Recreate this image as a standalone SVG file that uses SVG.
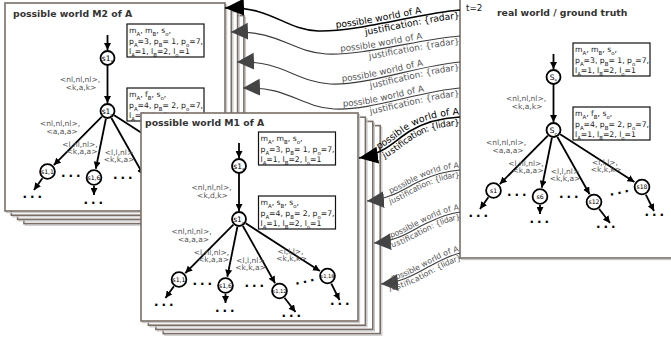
<svg xmlns="http://www.w3.org/2000/svg" width="671" height="343" viewBox="0 0 671 343">
<defs>
<style>
text{font-family:"DejaVu Sans","Liberation Sans",sans-serif}
.fr{fill:#fff;stroke:#7a6e67;stroke-width:1.6}
.sh{fill:none;stroke:#c8c8c8;stroke-width:1.2}
.ttl{font-size:9.3px;font-weight:bold;fill:#333}
.bx{fill:#fff;stroke:#111;stroke-width:1.2}
.bt{font-size:7.7px;fill:#1a1a1a}
.sb{font-size:5.4px;baseline-shift:sub}
.lb{font-size:7.5px;fill:#555;text-anchor:middle}
.nd{fill:#fff;stroke:#000;stroke-width:1.8}
.e{fill:none;stroke:#000;stroke-width:1.8;marker-end:url(#ah)}
.nt{font-size:7.5px;text-anchor:middle;fill:#000}
.ct{font-size:6.2px;text-anchor:middle;fill:#000}
.cs{font-size:5.1px;text-anchor:middle;fill:#000}
.dots{font-size:12px;font-weight:bold;letter-spacing:3px;fill:#000}
.ca{fill:none;stroke:#3c3c3c;stroke-width:1.1;marker-start:url(#gh)}
.cb{fill:none;stroke:#000;stroke-width:1.6;marker-start:url(#bh)}
.ab{fill:#000}
.ag{fill:#555}
</style>
<marker id="ah" markerUnits="userSpaceOnUse" markerWidth="8" markerHeight="7" refX="7" refY="3.5" orient="auto"><path d="M0,0 L7,3.5 L0,7 z" fill="#000"/></marker>
<marker id="gh" markerUnits="userSpaceOnUse" markerWidth="18" markerHeight="18" refX="17" refY="8.5" orient="auto-start-reverse"><path d="M0,0 L17,8.5 L0,17 z" fill="#444"/></marker>
<marker id="bh" markerUnits="userSpaceOnUse" markerWidth="20" markerHeight="18" refX="19" refY="8.5" orient="auto-start-reverse"><path d="M0,0 L19,8.5 L0,17 z" fill="#000"/></marker>
</defs>

<!-- possible world M2 -->
<g id="world-m2">
 <g id="m2-frames">
  <rect class="sh" x="25.5" y="17.2" width="220" height="208"/><rect class="fr" x="23.9" y="15.6" width="220" height="208"/>
  <rect class="sh" x="19.2" y="13" width="220" height="208"/><rect class="fr" x="17.6" y="11.4" width="220" height="208"/>
  <rect class="sh" x="12.9" y="8.8" width="220" height="208"/><rect class="fr" x="11.3" y="7.2" width="220" height="208"/>
  <rect class="sh" x="6.6" y="4.6" width="220" height="208"/><rect class="fr" x="5" y="3" width="220" height="208"/>
 </g>
 <text class="ttl" x="13" y="17">possible world M2 of A</text>
 <g id="m2-connectors">
  <path class="e" d="M107.5,35 V50"/>
  <path class="e" d="M107.5,65 V103"/>
  <path class="e" d="M101.9,116.7 L53.8,165.1"/>
  <path class="e" d="M105.9,118.8 L95.8,168.7"/>
  <path class="e" d="M111.4,118 L143.6,175.2"/>
  <path class="e" d="M114.2,115.3 L188.4,163.1"/>
  <path class="e" d="M42.4,178.3 L34,190"/>
  <path class="e" d="M94,186 V195"/>
 </g>
 <g id="m2-labels">
  <text class="lb"><tspan x="80" y="82">&lt;nl,nl,nl&gt;,</tspan><tspan x="81" y="90">&lt;k,a,k&gt;</tspan></text>
  <text class="lb"><tspan x="60" y="126">&lt;nl,nl,nl&gt;,</tspan><tspan x="62" y="133.5">&lt;a,a,a&gt;</tspan></text>
  <text class="lb"><tspan x="80" y="147">&lt;l,nl,nl&gt;,</tspan><tspan x="82" y="154">&lt;k,a,a&gt;</tspan></text>
  <text class="lb"><tspan x="119" y="154.5">&lt;l,l,nl&gt;</tspan><tspan x="119" y="162">&lt;k,k,a&gt;</tspan></text>
 </g>
 <g id="m2-s1star"><circle class="nd" cx="107.5" cy="58" r="7"/><text class="nt" x="107.5" y="60.6">s1<tspan class="sb">*</tspan></text></g>
 <g id="m2-s1c"><circle class="nd" cx="107.5" cy="111" r="7"/><text class="nt" x="107.5" y="113.6">s1<tspan class="sb">c</tspan></text></g>
 <g id="m2-s1-1"><circle class="nd" cx="47.5" cy="171.5" r="7.4"/><text class="ct" x="47.5" y="173.7">s1,1</text></g>
 <g id="m2-s1-6"><circle class="nd" cx="94" cy="177.5" r="7.4"/><text class="ct" x="94" y="179.7">s1,6</text></g>
 <g id="m2-dots">
  <text class="dots" x="61" y="176.5">...</text>
  <text class="dots" x="22.5" y="197.5">...</text>
  <text class="dots" x="83.5" y="203.5">...</text>
  <text class="dots" x="113" y="179">...</text>
 </g>
 <g id="m2-box1"><rect class="bx" x="127" y="24" width="77" height="33"/>
  <text class="bt" x="129" y="33.2">m<tspan class="sb">A</tspan>, m<tspan class="sb">B</tspan>, s<tspan class="sb">o</tspan>,</text>
  <text class="bt" x="129" y="43.5">p<tspan class="sb">A</tspan>=3, p<tspan class="sb">B</tspan>= 1, p<tspan class="sb">o</tspan>=7,</text>
  <text class="bt" x="129" y="53.8">l<tspan class="sb">A</tspan>=1, l<tspan class="sb">B</tspan>=2, l<tspan class="sb">o</tspan>=1</text>
 </g>
 <g id="m2-box2"><rect class="bx" x="127" y="88" width="77" height="33"/>
  <text class="bt" x="129" y="97.2">m<tspan class="sb">A</tspan>, f<tspan class="sb">B</tspan>, s<tspan class="sb">o</tspan>,</text>
  <text class="bt" x="129" y="107.5">p<tspan class="sb">A</tspan>=4, p<tspan class="sb">B</tspan>= 2, p<tspan class="sb">o</tspan>=7,</text>
  <text class="bt" x="129" y="117.8">l<tspan class="sb">A</tspan>=1, l<tspan class="sb">B</tspan>=2, l<tspan class="sb">o</tspan>=1</text>
 </g>
</g>

<!-- possible world M1 -->
<g id="world-m1">
 <g id="m1-frames">
  <rect class="sh" x="164.8" y="127.2" width="217" height="208"/><rect class="fr" x="163.2" y="125.6" width="217" height="208"/>
  <rect class="sh" x="157.4" y="123" width="217" height="208"/><rect class="fr" x="155.8" y="121.4" width="217" height="208"/>
  <rect class="sh" x="150" y="118.8" width="217" height="208"/><rect class="fr" x="148.4" y="117.2" width="217" height="208"/>
  <rect class="sh" x="142.6" y="114.6" width="217" height="208"/><rect class="fr" x="141" y="113" width="217" height="208"/>
 </g>
 <text class="ttl" x="145" y="125.5">possible world M1 of A</text>
 <g transform="translate(131.5,108)">
  <g id="m1-connectors">
   <path class="e" d="M107.5,35 V50"/>
   <path class="e" d="M107.5,65 V103"/>
   <path class="e" d="M101.9,116.7 L53.8,165.1"/>
   <path class="e" d="M105.9,118.8 L95.8,168.7"/>
   <path class="e" d="M111.4,118 L143.6,175.2"/>
   <path class="e" d="M114.2,115.3 L188.4,163.1"/>
   <path class="e" d="M42.4,178.3 L34,190"/>
   <path class="e" d="M94,186 V195"/>
   <path class="e" d="M153,189.8 L164,204"/>
   <path class="e" d="M199.8,175.6 L208,192"/>
  </g>
  <g id="m1-labels">
   <text class="lb"><tspan x="80" y="82">&lt;nl,nl,nl&gt;,</tspan><tspan x="81" y="90">&lt;k,d,k&gt;</tspan></text>
   <text class="lb"><tspan x="60" y="126">&lt;nl,nl,nl&gt;,</tspan><tspan x="62" y="133.5">&lt;a,a,a&gt;</tspan></text>
   <text class="lb"><tspan x="80" y="147">&lt;l,nl,nl&gt;,</tspan><tspan x="82" y="154">&lt;k,a,a&gt;</tspan></text>
   <text class="lb"><tspan x="119" y="154.5">&lt;l,l,nl&gt;</tspan><tspan x="119" y="162">&lt;k,k,a&gt;</tspan></text>
   <text class="lb"><tspan x="159" y="146">&lt;l,l,l&gt;,</tspan><tspan x="160" y="153">&lt;k,k,k&gt;</tspan></text>
  </g>
  <g id="m1-s1star"><circle class="nd" cx="107.5" cy="58" r="7"/><text class="nt" x="107.5" y="60.6">s1<tspan class="sb">*</tspan></text></g>
  <g id="m1-s1c"><circle class="nd" cx="107.5" cy="111" r="7"/><text class="nt" x="107.5" y="113.6">s1<tspan class="sb">c</tspan></text></g>
  <g id="m1-s1-1"><circle class="nd" cx="47.5" cy="171.5" r="7.4"/><text class="ct" x="47.5" y="173.7">s1,1</text></g>
  <g id="m1-s1-6"><circle class="nd" cx="94" cy="177.5" r="7.4"/><text class="ct" x="94" y="179.7">s1,6</text></g>
  <g id="m1-s1-12"><circle class="nd" cx="148" cy="183" r="7.4"/><text class="cs" x="148" y="184.8">s1,12</text></g>
  <g id="m1-s1-18"><circle class="nd" cx="196" cy="168" r="7.4"/><text class="cs" x="196" y="169.8">s1,18</text></g>
  <g id="m1-dots">
   <text class="dots" x="61" y="176.5">...</text>
   <text class="dots" x="22.5" y="197.5">...</text>
   <text class="dots" x="83.5" y="203.5">...</text>
   <text class="dots" x="113" y="179">...</text>
   <text class="dots" x="150" y="209">...</text>
   <text class="dots" x="164" y="177" transform="rotate(-12 164 177)">...</text>
   <text class="dots" x="198.5" y="196.5">...</text>
  </g>
  <g id="m1-box1"><rect class="bx" x="127" y="24" width="77" height="33"/>
   <text class="bt" x="129" y="33.2">m<tspan class="sb">A</tspan>, m<tspan class="sb">B</tspan>, s<tspan class="sb">o</tspan>,</text>
   <text class="bt" x="129" y="43.5">p<tspan class="sb">A</tspan>=3, p<tspan class="sb">B</tspan>= 1, p<tspan class="sb">o</tspan>=7,</text>
   <text class="bt" x="129" y="53.8">l<tspan class="sb">A</tspan>=1, l<tspan class="sb">B</tspan>=2, l<tspan class="sb">o</tspan>=1</text>
  </g>
  <g id="m1-box2"><rect class="bx" x="127" y="88" width="77" height="33"/>
   <text class="bt" x="129" y="97.2">m<tspan class="sb">A</tspan>, s<tspan class="sb">B</tspan>, s<tspan class="sb">o</tspan>,</text>
   <text class="bt" x="129" y="107.5">p<tspan class="sb">A</tspan>=4, p<tspan class="sb">B</tspan>= 2, p<tspan class="sb">o</tspan>=7,</text>
   <text class="bt" x="129" y="117.8">l<tspan class="sb">A</tspan>=1, l<tspan class="sb">B</tspan>=2, l<tspan class="sb">o</tspan>=1</text>
  </g>
 </g>
</g>

<!-- real world -->
<g id="world-real">
 <rect class="sh" x="461.6" y="-8.4" width="220" height="268"/><rect class="fr" x="460" y="-10" width="220" height="268"/>
 <text x="466" y="10.5" font-size="8.8" fill="#111">t=2</text>
 <text class="ttl" x="497" y="16">real world / ground truth</text>
 <g transform="translate(446,19)">
  <g id="rw-connectors">
   <path class="e" d="M107.5,35 V50"/>
   <path class="e" d="M107.5,65 V103"/>
   <path class="e" d="M101.9,116.7 L53.8,165.1"/>
   <path class="e" d="M105.9,118.8 L95.8,168.7"/>
   <path class="e" d="M111.4,118 L143.6,175.2"/>
   <path class="e" d="M114.2,115.3 L188.4,163.1"/>
   <path class="e" d="M42.4,178.3 L34,190"/>
   <path class="e" d="M94,186 V195"/>
   <path class="e" d="M153,189.8 L164,204"/>
   <path class="e" d="M199.8,175.6 L208,192"/>
  </g>
  <g id="rw-labels">
   <text class="lb"><tspan x="80" y="82">&lt;nl,nl,nl&gt;,</tspan><tspan x="81" y="90">&lt;k,a,k&gt;</tspan></text>
   <text class="lb"><tspan x="60" y="126">&lt;nl,nl,nl&gt;,</tspan><tspan x="62" y="133.5">&lt;a,a,a&gt;</tspan></text>
   <text class="lb"><tspan x="80" y="147">&lt;l,nl,nl&gt;,</tspan><tspan x="82" y="154">&lt;k,a,a&gt;</tspan></text>
   <text class="lb"><tspan x="119" y="154.5">&lt;l,l,nl&gt;</tspan><tspan x="119" y="162">&lt;k,k,a&gt;</tspan></text>
   <text class="lb"><tspan x="159" y="146">&lt;l,l,l&gt;,</tspan><tspan x="160" y="153">&lt;k,k,k&gt;</tspan></text>
  </g>
  <g id="rw-sstar"><circle class="nd" cx="107.5" cy="58" r="7"/><text class="nt" x="107.5" y="60.8">S<tspan class="sb">*</tspan></text></g>
  <g id="rw-sc"><circle class="nd" cx="107.5" cy="111" r="7"/><text class="nt" x="107.5" y="113.8">S<tspan class="sb">c</tspan></text></g>
  <g id="rw-s1"><circle class="nd" cx="47.5" cy="171.5" r="7.4"/><text class="ct" x="47.5" y="173.7">s1</text></g>
  <g id="rw-s6"><circle class="nd" cx="94" cy="177.5" r="7.4"/><text class="ct" x="94" y="179.7">s6</text></g>
  <g id="rw-s12"><circle class="nd" cx="148" cy="183" r="7.4"/><text class="ct" x="148" y="185.2">s12</text></g>
  <g id="rw-s18"><circle class="nd" cx="196" cy="168" r="7.4"/><text class="ct" x="196" y="170.2">s18</text></g>
  <g id="rw-dots">
   <text class="dots" x="61" y="176.5">...</text>
   <text class="dots" x="22.5" y="197.5">...</text>
   <text class="dots" x="83.5" y="203.5">...</text>
   <text class="dots" x="113" y="179">...</text>
   <text class="dots" x="150" y="209">...</text>
   <text class="dots" x="164" y="177" transform="rotate(-12 164 177)">...</text>
   <text class="dots" x="198.5" y="196.5">...</text>
  </g>
  <g id="rw-box1"><rect class="bx" x="127" y="24" width="77" height="33"/>
   <text class="bt" x="129" y="33.2">m<tspan class="sb">A</tspan>, m<tspan class="sb">B</tspan>, s<tspan class="sb">o</tspan>,</text>
   <text class="bt" x="129" y="43.5">p<tspan class="sb">A</tspan>=3, p<tspan class="sb">B</tspan>= 1, p<tspan class="sb">o</tspan>=7,</text>
   <text class="bt" x="129" y="53.8">l<tspan class="sb">A</tspan>=1, l<tspan class="sb">B</tspan>=2, l<tspan class="sb">o</tspan>=1</text>
  </g>
  <g id="rw-box2"><rect class="bx" x="127" y="88" width="77" height="33"/>
   <text class="bt" x="129" y="97.2">m<tspan class="sb">A</tspan>, f<tspan class="sb">B</tspan>, s<tspan class="sb">o</tspan>,</text>
   <text class="bt" x="129" y="107.5">p<tspan class="sb">A</tspan>=4, p<tspan class="sb">B</tspan>= 2, p<tspan class="sb">o</tspan>=7,</text>
   <text class="bt" x="129" y="117.8">l<tspan class="sb">A</tspan>=1, l<tspan class="sb">B</tspan>=2, l<tspan class="sb">o</tspan>=1</text>
  </g>
 </g>
</g>

<!-- connectors between worlds -->
<g id="world-connectors">
 <path id="r1" class="cb" d="M225,8 C272,6 285,30 318,31 C358,32 420,13 460,10"/>
 <path id="r2" class="ca" d="M231,32 C278,30 292,52 326,54 C362,56 420,39 460,36"/>
 <path id="r3" class="ca" d="M237,62 C282,60 296,82 330,84 C366,86 420,65 460,62"/>
 <path id="r4" class="ca" d="M243,88 C288,86 300,107 334,109 C370,111 420,91 460,88"/>
 <path id="l1" class="cb" d="M359,158 C385,154 395,140 410,131 C425,122 440,118 460,117"/>
 <path id="l2" class="ca" d="M367,201 C392,199 405,188 420,181 C435,174 445,171 460,170"/>
 <path id="l3" class="ca" d="M374,243 C399,241 412,230 427,223 C442,216 450,213 460,212"/>
 <path id="l4" class="ca" d="M381,284 C405,282 418,272 432,265 C445,258 452,255 460,253"/>
 <text class="ab" font-size="9.2" dy="-2.5" text-anchor="end"><textPath href="#r1" startOffset="84%">possible world of A</textPath></text>
 <text class="ab" font-size="9.2" dy="8.5" text-anchor="end"><textPath href="#r1" startOffset="99.5%">justification: {radar}</textPath></text>
 <text class="ag" font-size="8.8" dy="-2.5" text-anchor="end"><textPath href="#r2" startOffset="84%">possible world of A</textPath></text>
 <text class="ag" font-size="8.8" dy="8.2" text-anchor="end"><textPath href="#r2" startOffset="99.5%">justification: {radar}</textPath></text>
 <text class="ag" font-size="8.8" dy="-2.5" text-anchor="end"><textPath href="#r3" startOffset="84%">possible world of A</textPath></text>
 <text class="ag" font-size="8.8" dy="8.2" text-anchor="end"><textPath href="#r3" startOffset="99.5%">justification: {radar}</textPath></text>
 <text class="ag" font-size="8.8" dy="-2.5" text-anchor="end"><textPath href="#r4" startOffset="84%">possible world of A</textPath></text>
 <text class="ag" font-size="8.8" dy="8.2" text-anchor="end"><textPath href="#r4" startOffset="99.5%">justification: {radar}</textPath></text>
 <text class="ab" font-size="9.4" dy="-2.5" text-anchor="end"><textPath href="#l1" startOffset="99.5%">possible world of A</textPath></text>
 <text class="ab" font-size="8.8" dy="8.4" text-anchor="end"><textPath href="#l1" startOffset="99.5%">justification: {lidar}</textPath></text>
 <text class="ag" font-size="7.8" dy="-2.2" text-anchor="end"><textPath href="#l2" startOffset="99.5%">possible world of A</textPath></text>
 <text class="ag" font-size="7.8" dy="7.5" text-anchor="end"><textPath href="#l2" startOffset="99.5%">justification: {lidar}</textPath></text>
 <text class="ag" font-size="7.8" dy="-2.2" text-anchor="end"><textPath href="#l3" startOffset="99.5%">possible world of A</textPath></text>
 <text class="ag" font-size="7.8" dy="7.5" text-anchor="end"><textPath href="#l3" startOffset="99.5%">justification: {lidar}</textPath></text>
 <text class="ag" font-size="7.8" dy="-2.2" text-anchor="end"><textPath href="#l4" startOffset="99.5%">possible world of A</textPath></text>
 <text class="ag" font-size="7.8" dy="7.5" text-anchor="end"><textPath href="#l4" startOffset="99.5%">justification: {lidar}</textPath></text>
</g>
</svg>
